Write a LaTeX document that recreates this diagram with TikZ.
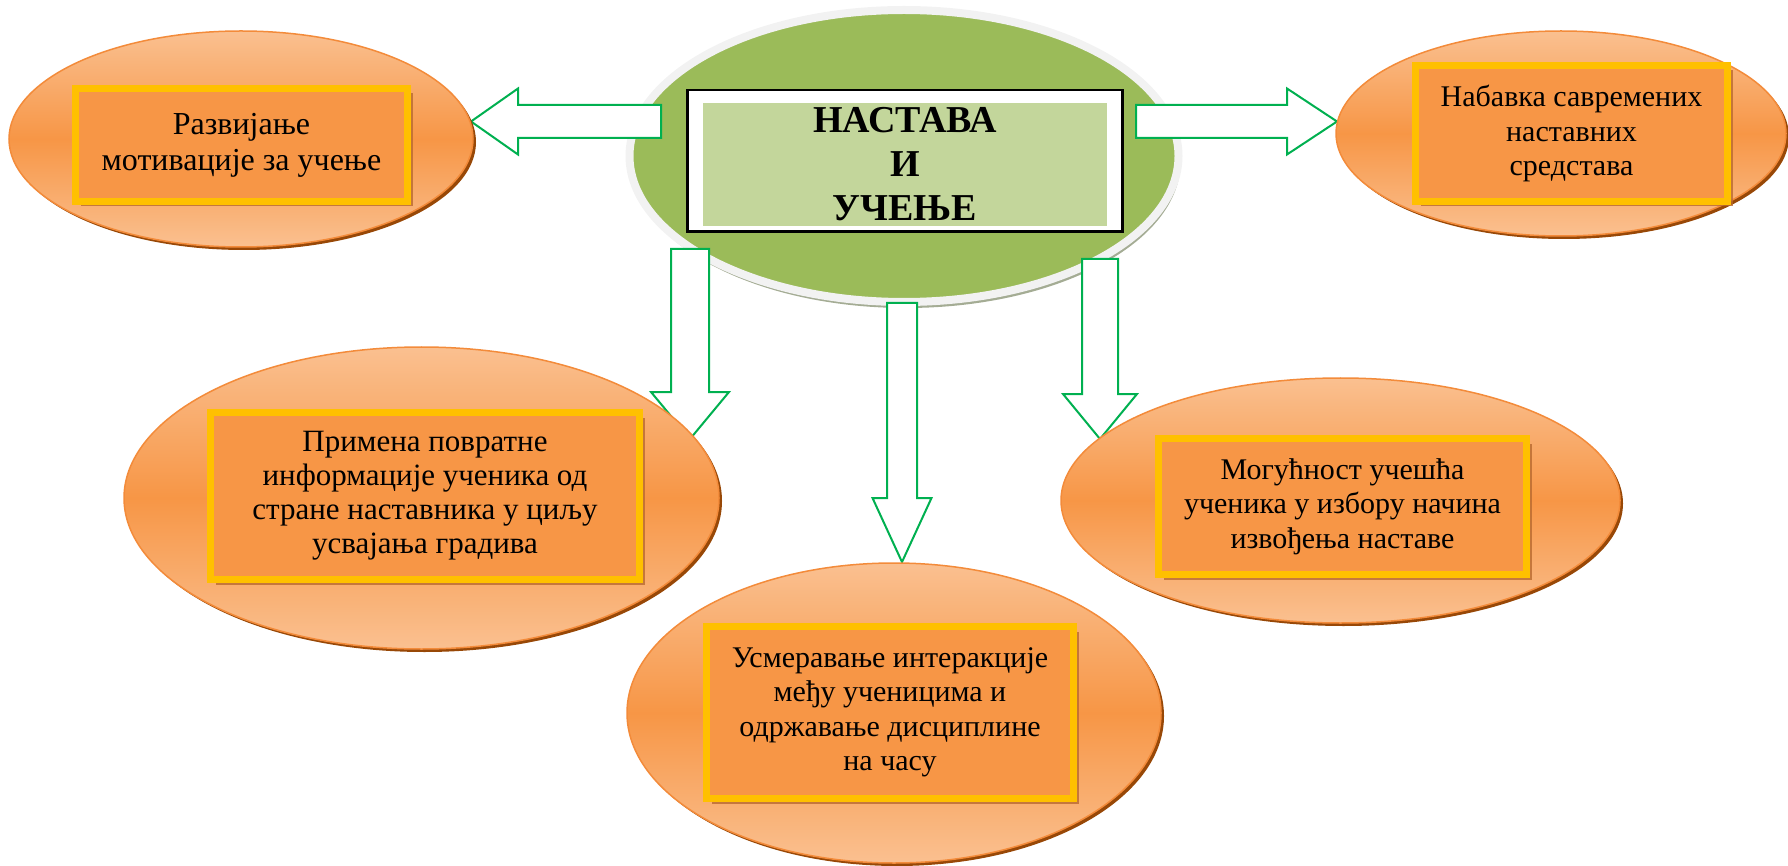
\documentclass[tikz,border=0pt]{standalone}
\usepackage{fontspec}
\setmainfont{Liberation Serif}
\usetikzlibrary{shapes.geometric,shadows,calc}

\definecolor{ideaorange}{HTML}{F79646}
\definecolor{peach}{HTML}{FAC090}
\definecolor{ideaedge}{HTML}{F38B3A}
\definecolor{ideashadow}{HTML}{984807}
\definecolor{cardyellow}{HTML}{FFC000}
\definecolor{cardshadow}{HTML}{B86A30}
\definecolor{hubgreen}{HTML}{9BBB59}
\definecolor{hubring}{HTML}{F2F2F2}
\definecolor{hubshadow}{HTML}{A4AC94}
\definecolor{titlegreen}{HTML}{C3D69B}
\definecolor{flowgreen}{HTML}{00B050}

% block arrow: start, tip, half shaft, half head, head length
\newcommand{\blockarrow}[5]{%
  \coordinate (ba) at ($(#2)!#5!(#1)$);
  \draw[flow] ($(#1)!#3!90:(#2)$) -- ($(ba)!#3!90:(#2)$) -- ($(ba)!#4!90:(#2)$) -- (#2)
    -- ($(ba)!#4!-90:(#2)$) -- ($(ba)!#3!-90:(#2)$) -- ($(#1)!#3!-90:(#2)$) -- cycle;}

\begin{document}
\begin{tikzpicture}[x=1pt,y=-1pt,
    idea/.style={ellipse, inner sep=0pt, draw=ideaedge, line width=1.5pt,
      top color=peach, bottom color=peach, middle color=ideaorange,
      drop shadow={shadow xshift=3pt, shadow yshift=-3pt, fill=ideashadow, opacity=1}},
    card/.style={rectangle, inner sep=0pt, draw=cardyellow, line width=7pt,
      fill=ideaorange, align=center, font=\fontsize{30}{34.5}\selectfont,
      drop shadow={shadow xshift=5pt, shadow yshift=-5pt, fill=cardshadow, opacity=.8}},
    flow/.style={draw=flowgreen, line width=2pt, fill=white}]
  \useasboundingbox (0,0) rectangle (1788,866);
  % centre
  \node[ellipse, inner sep=0pt, minimum width=549, minimum height=292, fill=hubgreen,
    draw=hubring, line width=8pt,
    drop shadow={shadow xshift=2pt, shadow yshift=-6pt, fill=hubshadow, opacity=1}]
    (hub) at (904,156) {};
  \node[draw=black, line width=2.5pt, fill=white, inner sep=0pt,
    minimum width=435, minimum height=141.5] (frame) at (905,161) {};
  \node[fill=titlegreen, inner sep=0pt, minimum width=404, minimum height=123,
    align=center, font=\bfseries\fontsize{38}{44}\selectfont]
    (title) at (905,164.5) {НАСТАВА\\И\\УЧЕЊЕ};
  % arrows
  \coordinate (a1s) at (661,121.5); \coordinate (a1t) at (471,121.5);
  \coordinate (a2s) at (1136,121.5); \coordinate (a2t) at (1337,121.5);
  \coordinate (a3s) at (690,249); \coordinate (a3t) at (690,439);
  \coordinate (a4s) at (902,303); \coordinate (a4t) at (902,562);
  \coordinate (a5s) at (1100,259); \coordinate (a5t) at (1100,439);
  \blockarrow{a1s}{a1t}{16.5pt}{33pt}{47pt}
  \blockarrow{a2s}{a2t}{16.5pt}{33pt}{50pt}
  \blockarrow{a3s}{a3t}{19pt}{39pt}{47pt}
  \blockarrow{a4s}{a4t}{15pt}{29.5pt}{64pt}
  \blockarrow{a5s}{a5t}{18pt}{37pt}{45pt}
  % ideas
  \node[idea, minimum width=464, minimum height=216] (o1) at (241,139) {};
  \node[card, minimum width=332, minimum height=113, font=\fontsize{32}{36}\selectfont]
    (c1) at (241.5,145) {Развијање\\мотивације за учење};
  \node[idea, minimum width=450, minimum height=205] (o2) at (1561,133.5) {};
  \node[card, minimum width=312, minimum height=136] (c2) at (1571.5,133.5)
    {Набавка савремених\\наставних\\средстава};
  \node[idea, minimum width=595, minimum height=302] (o3) at (421.5,498) {};
  \node[card, minimum width=429, minimum height=167, font=\fontsize{31}{34}\selectfont]
    (c3) at (425,496)
    {Примена повратне\\информације ученика од\\стране наставника у циљу\\усвајања градива};
  \node[idea, minimum width=559, minimum height=245] (o4) at (1340.5,500.5) {};
  \node[card, minimum width=368, minimum height=136] (c4) at (1342.5,506.5)
    {Могућност учешћа\\ученика у избору начина\\извођења наставе};
  \node[idea, minimum width=534, minimum height=300] (o5) at (894,713) {};
  \node[card, minimum width=367, minimum height=172] (c5) at (890,712.5)
    {Усмеравање интеракције\\међу ученицима и\\одржавање дисциплине\\на часу};
\end{tikzpicture}
\end{document}
